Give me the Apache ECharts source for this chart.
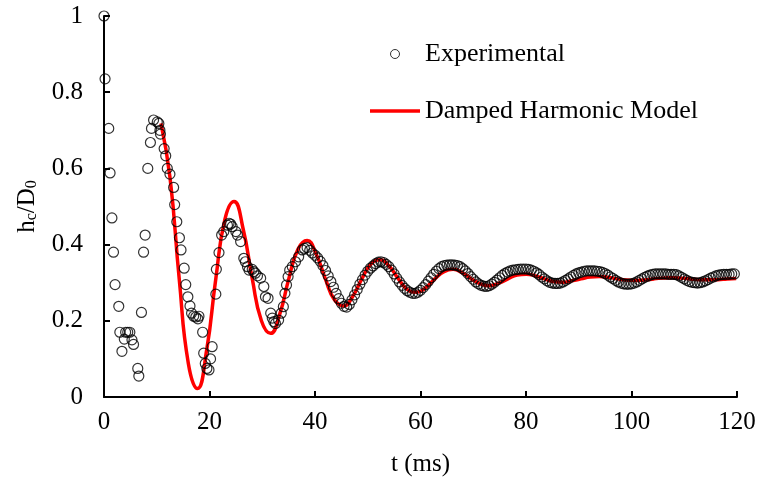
<!DOCTYPE html>
<html><head><meta charset="utf-8">
<script src="https://cdn.jsdelivr.net/npm/echarts@6/dist/echarts.min.js"></script>
<style>html,body{margin:0;padding:0;background:#fff}#c{width:760px;height:478px}</style>
</head><body><div id="c"></div>
<script>
// Experimental data (t in ms, hc/D0)
const expT = [0.0,0.2,0.9,1.15,1.5,1.8,2.1,2.8,3.0,3.4,3.85,4.1,4.5,4.9,5.3,5.6,6.4,6.6,7.1,7.5,7.8,8.3,8.8,9.0,9.4,10.1,10.4,10.6,10.7,11.4,11.7,12.0,12.5,13.2,13.4,13.8,14.3,14.6,15.2,15.5,15.9,16.3,16.6,17.0,17.4,17.8,18.0,18.7,18.9,19.2,19.5,19.9,20.2,20.5,21.2,21.3,21.8,22.3,22.7,23.4,23.7,24.0,24.3,25.0,25.3,25.9,26.5,26.8,27.2,27.5,28.1,28.4,28.7,29.1,29.7,30.3,30.6,31.1,31.6,31.9,32.2,32.5,33.1,33.6,34.0,34.3,34.6,34.9,35.2,35.7,36.3,36.9,37.6,38.0,38.5,39.0,39.5,40.0,40.5,41.0,41.5,42.0,42.5,43.0,43.5,44.0,44.5,45.0,45.5,46.0,46.5,47.0,47.5,48.0,48.5,49.0,49.5,50.0,50.5,51.0,51.5,52.0,52.5,53.0,53.5,54.0,54.5,55.0,55.5,56.0,56.5,57.0,57.5,58.0,58.5,59.0,59.5,60.0,60.5,61.0,61.5,62.0,62.5,63.0,63.5,64.0,64.5,65.0,65.5,66.0,66.5,67.0,67.5,68.0,68.5,69.0,69.5,70.0,70.5,71.0,71.5,72.0,72.5,73.0,73.5,74.0,74.5,75.0,75.5,76.0,76.5,77.0,77.5,78.0,78.5,79.0,79.5,80.0,80.5,81.0,81.5,82.0,82.5,83.0,83.5,84.0,84.5,85.0,85.5,86.0,86.5,87.0,87.5,88.0,88.5,89.0,89.5,90.0,90.5,91.0,91.5,92.0,92.5,93.0,93.5,94.0,94.5,95.0,95.5,96.0,96.5,97.0,97.5,98.0,98.5,99.0,99.5,100.0,100.5,101.0,101.5,102.0,102.5,103.0,103.5,104.0,104.5,105.0,105.5,106.0,106.5,107.0,107.5,108.0,108.5,109.0,109.5,110.0,110.5,111.0,111.5,112.0,112.5,113.0,113.5,114.0,114.5,115.0,115.5,116.0,116.5,117.0,117.5,118.0,118.5,119.0,119.5];
const expY = [1.000,0.835,0.705,0.588,0.470,0.380,0.295,0.238,0.170,0.120,0.152,0.170,0.170,0.170,0.150,0.138,0.075,0.055,0.222,0.380,0.425,0.600,0.668,0.705,0.727,0.722,0.718,0.700,0.690,0.652,0.633,0.600,0.585,0.550,0.505,0.460,0.418,0.386,0.338,0.295,0.263,0.239,0.220,0.212,0.210,0.205,0.212,0.170,0.115,0.088,0.075,0.071,0.100,0.132,0.270,0.335,0.379,0.425,0.434,0.451,0.456,0.454,0.447,0.434,0.425,0.408,0.364,0.355,0.342,0.333,0.335,0.329,0.325,0.318,0.312,0.290,0.263,0.259,0.220,0.207,0.198,0.193,0.202,0.220,0.237,0.272,0.294,0.316,0.333,0.342,0.355,0.368,0.386,0.390,0.392,0.385,0.378,0.372,0.365,0.356,0.345,0.332,0.318,0.303,0.288,0.272,0.258,0.246,0.238,0.236,0.243,0.255,0.268,0.282,0.296,0.308,0.320,0.330,0.338,0.344,0.350,0.354,0.355,0.353,0.348,0.342,0.333,0.323,0.312,0.302,0.293,0.285,0.279,0.275,0.272,0.272,0.275,0.280,0.287,0.295,0.304,0.313,0.322,0.330,0.337,0.342,0.345,0.346,0.347,0.347,0.346,0.345,0.342,0.337,0.331,0.324,0.316,0.309,0.302,0.297,0.293,0.291,0.290,0.292,0.296,0.301,0.307,0.313,0.319,0.324,0.328,0.331,0.333,0.334,0.335,0.336,0.336,0.336,0.335,0.333,0.330,0.326,0.321,0.315,0.310,0.305,0.301,0.299,0.298,0.298,0.299,0.302,0.306,0.310,0.315,0.319,0.323,0.326,0.328,0.330,0.331,0.331,0.331,0.331,0.330,0.329,0.327,0.324,0.320,0.315,0.311,0.306,0.302,0.299,0.297,0.296,0.296,0.297,0.299,0.302,0.306,0.310,0.314,0.317,0.320,0.322,0.323,0.323,0.323,0.323,0.323,0.322,0.322,0.322,0.321,0.318,0.314,0.310,0.306,0.303,0.301,0.300,0.299,0.300,0.302,0.305,0.308,0.312,0.315,0.318,0.320,0.321,0.322,0.322,0.322,0.323,0.323];

// Damped harmonic model
const modelT = [10.8,12.53,14.26,15.99,17.72,19.46,21.19,22.92,24.65,26.38,28.11,29.84,31.57,33.30,35.03,36.77,38.50,40.23,41.96,43.69,45.42,47.15,48.88,50.61,52.34,54.08,55.81,57.54,59.27,61.0,62.73,64.46,66.19,67.92,69.65,71.38,73.12,74.85,76.58,78.31,80.04,81.77,83.5,85.23,86.96,88.69,90.43,92.16,93.89,95.62,97.35,99.08,100.81,102.54,104.27,106.0,107.74,109.47,111.2,112.93,114.66,116.39,118.12,119.85];
const modelY = [0.718,0.574,0.310,0.088,0.022,0.123,0.310,0.466,0.513,0.441,0.310,0.200,0.167,0.217,0.310,0.388,0.411,0.375,0.310,0.255,0.239,0.264,0.310,0.349,0.360,0.343,0.310,0.282,0.275,0.287,0.310,0.329,0.335,0.326,0.310,0.297,0.292,0.299,0.310,0.320,0.322,0.318,0.310,0.303,0.301,0.305,0.310,0.315,0.316,0.314,0.310,0.307,0.306,0.307,0.310,0.312,0.313,0.312,0.310,0.308,0.308,0.308,0.310,0.311];

const xRange = [0, 120, 20];
const yRange = [0, 1, 0.2];
const seriesNames = ['Experimental', 'Damped Harmonic Model'];

const FONT = 'Liberation Serif';
const chart = echarts.init(document.getElementById('c'), null, {renderer: 'canvas'});
const axisCommon = {
  axisLine: {show: true, lineStyle: {color: '#000', width: 2}},
  axisTick: {show: true, inside: true, length: 6, lineStyle: {color: '#000', width: 2}},
  splitLine: {show: false},
};
chart.setOption({
  animation: false,
  backgroundColor: '#fff',
  grid: {left: 104, right: 23, top: 16, bottom: 81, containLabel: false, outerBoundsMode: 'none'},
  legend: {
    orient: 'vertical', left: 365, top: 36, itemWidth: 50, itemHeight: 9, itemGap: 31,
    textStyle: {fontFamily: FONT, fontSize: 26, color: '#000'},
    data: [
      {name: seriesNames[0], icon: 'circle', itemStyle: {color: 'rgba(0,0,0,0)', borderColor: '#000', borderWidth: 1}},
      {name: seriesNames[1], icon: 'path://M0,0H50V3.5H0Z', itemStyle: {color: '#ff0000', borderWidth: 0}}
    ]
  },
  xAxis: Object.assign({
    type: 'value', min: xRange[0], max: xRange[1], interval: xRange[2],
    name: 't (ms)', nameLocation: 'middle', nameGap: 55,
    nameTextStyle: {fontFamily: FONT, fontSize: 25, color: '#000'},
    axisLabel: {margin: 13, fontFamily: FONT, fontSize: 25, color: '#000'}
  }, axisCommon),
  yAxis: Object.assign({
    type: 'value', min: yRange[0], max: yRange[1], interval: yRange[2],
    name: 'h{s|c}/D{s|0}', nameLocation: 'middle', nameGap: 64, nameRotate: 90,
    nameTextStyle: {fontFamily: FONT, fontSize: 25, color: '#000',
      rich: {s: {fontFamily: FONT, fontSize: 16, color: '#000', verticalAlign: 'bottom', padding: [6, 0, 0, 0]}}},
    axisLabel: {margin: 21, fontFamily: FONT, fontSize: 25, color: '#000'}
  }, axisCommon),
  series: [
    {
      name: seriesNames[1], type: 'line', smooth: true, symbol: 'none', z: 2,
      lineStyle: {color: '#ff0000', width: 3.5}, itemStyle: {color: '#ff0000'},
      data: modelT.map((t, i) => [t, modelY[i]])
    },
    {
      name: seriesNames[0], type: 'scatter', symbol: 'circle', symbolSize: 10, z: 3,
      itemStyle: {color: 'rgba(0,0,0,0)', borderColor: '#000', borderWidth: 1.2},
      data: expT.map((t, i) => [t, expY[i]])
    }
  ]
});
</script></body></html>
